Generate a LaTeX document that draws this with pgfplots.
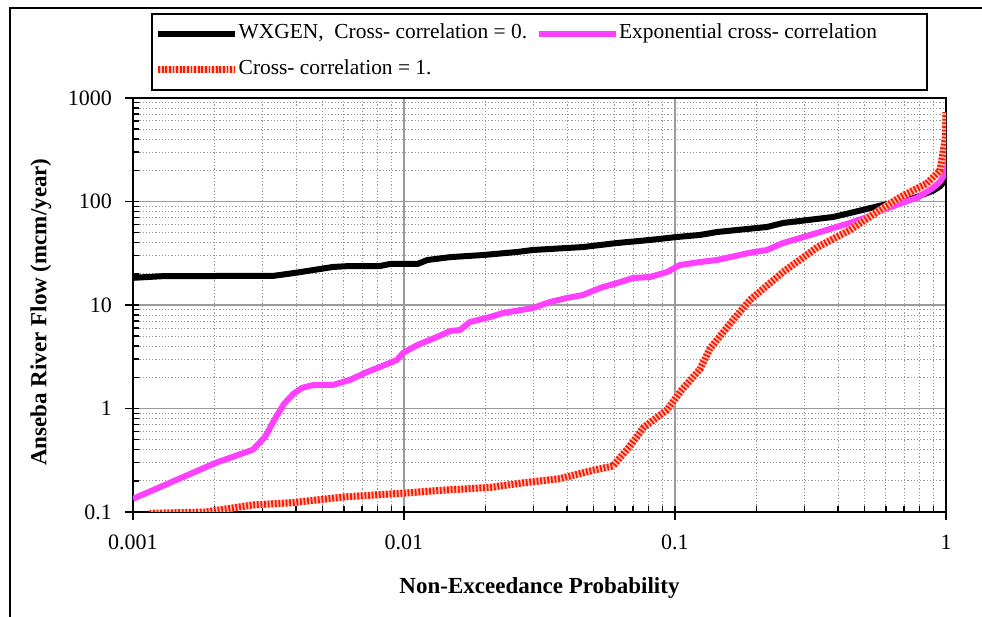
\documentclass[border=0pt]{standalone}
\usepackage{pgfplots}
\pgfplotsset{compat=1.18}
\usepackage{fontspec}
\setmainfont{Liberation Serif}
\definecolor{expmag}{RGB}{255,64,255}
\definecolor{ccred}{RGB}{255,25,0}
\definecolor{ccpink}{RGB}{255,190,180}
\definecolor{majgrid}{RGB}{155,155,155}
\definecolor{mingrid}{RGB}{150,150,150}
\pgfplotsset{legend image code/.code={\draw[#1] (0pt,0pt) -- (77pt,0pt);}}
\begin{document}
\begin{tikzpicture}[x=1pt,y=1pt]
\path[use as bounding box] (0,0) rectangle (982,617);
\draw[line width=2pt] (10,-5) -- (10,609) -- (990,609);
\draw[line width=1.8pt] (152,603) rectangle (927,527);
\begin{axis}[
  at={(133pt,105pt)}, anchor=south west,
  width=813pt, height=414pt, scale only axis,
  xmode=log, ymode=log,
  xmin=0.001, xmax=1, ymin=0.1, ymax=1000,
  xtick={0.001,0.01,0.1,1}, xticklabels={0.001,0.01,0.1,1},
  ytick={0.1,1,10,100,1000}, yticklabels={0.1,1,10,100,1000},
  xtick pos=left, ytick pos=left,
  tick align=inside, major tick length=5pt, minor tick length=6pt,
  tick style={black, line width=1.8pt},
  minor tick style={black, line width=1.4pt},
  extra x ticks={0.001,0.01,0.1,1}, extra x tick labels={},
  extra y ticks={0.1,1,10,100,1000}, extra y tick labels={},
  extra tick style={tick align=outside, major tick length=8pt, grid=none},
  grid=both,
  major grid style={majgrid, line width=1.5pt},
  minor grid style={mingrid, line width=0.9pt, dash pattern=on 1.2pt off 2pt},
  axis line style={black, line width=2pt},
  ticklabel style={font=\fontsize{22}{24}\selectfont},
  xticklabel style={anchor=north, inner sep=0pt, yshift=-23pt},
  yticklabel style={anchor=east, inner sep=0pt, xshift=-21pt},
  xlabel={Non-Exceedance Probability},
  ylabel={Anseba River Flow (mcm/year)},
  xlabel style={font=\bfseries\fontsize{23}{26}\selectfont, at={(axis description cs:0.5,-0.1836)}, anchor=center},
  ylabel style={font=\bfseries\fontsize{23}{26}\selectfont, at={(axis description cs:-0.1132,0.483)}, anchor=center},
  legend columns=2, legend cell align=left,
  legend style={draw=none, fill=none, at={(axis description cs:0.0265,1.185)}, anchor=north west,
    font=\fontsize{21.4}{24}\selectfont, inner sep=0pt,
    /tikz/every even column/.append style={column sep=9pt}, row sep=12pt,
    nodes={inner ysep=2pt, inner xsep=0pt, text height=15pt, text depth=5pt}},
]
\addplot[black, line width=6pt, line join=round] coordinates {
(0.001,18.3) (0.00129,19.0) (0.0027,19.1) (0.00329,19.1) (0.0040,20.5) (0.00547,23.3)
(0.00632,23.8) (0.00815,23.8) (0.00888,24.9) (0.0112,24.9) (0.0122,27.2) (0.0148,29.0)
(0.0196,30.4) (0.0261,32.5) (0.0299,34.0) (0.0458,36.3) (0.0611,39.7) (0.0809,42.5)
(0.1017,45.4) (0.1237,47.5) (0.1429,50.7) (0.2185,56.7) (0.2504,62) (0.3828,70.8)
(0.4424,77.4) (0.5855,92.5) (0.7181,103.4) (0.7816,110.5) (0.851,120.8) (0.8954,127)
(0.9504,140) (0.9748,152) (0.99,175) (1,210)
};
\addlegendentry{WXGEN,\ \ Cross- correlation = 0.}
\addplot[expmag, line width=6pt, line join=round] coordinates {
(0.001,0.134) (0.00201,0.297) (0.00277,0.40) (0.00307,0.53) (0.0033,0.75) (0.0036,1.1)
(0.0039,1.38) (0.0042,1.58) (0.0046,1.68) (0.00547,1.69) (0.00632,1.89)
(0.0073,2.25) (0.00815,2.52) (0.00942,2.94) (0.00992,3.44) (0.0112,4.1) (0.0132,4.9)
(0.0148,5.6) (0.0161,5.73) (0.0175,6.85) (0.0208,7.66) (0.0232,8.37) (0.0299,9.35)
(0.0346,10.7) (0.040,11.7) (0.0458,12.5) (0.0529,14.6) (0.0611,16.3) (0.070,18.2)
(0.0809,18.65) (0.0934,20.8) (0.1043,24.35) (0.1237,26.0) (0.1429,27.2) (0.1892,32)
(0.2185,34) (0.2504,39.7) (0.334,49.6) (0.383,55.5) (0.442,62) (0.511,70.8)
(0.5855,82.8) (0.737,103.4) (0.78,108) (0.895,135) (0.95,155) (0.975,172.5)
(0.995,220) (1,269)
};
\addlegendentry{Exponential cross- correlation}
\addplot[ccred, line width=7pt, dash pattern=on 1.8pt off 1.8pt,
  preaction={draw=ccpink, line width=7pt, solid}] coordinates {
(0.00115,0.097) (0.00185,0.1) (0.00277,0.117) (0.00386,0.123) (0.00606,0.14) (0.00992,0.152)
(0.0142,0.163) (0.0209,0.173) (0.027,0.19) (0.0376,0.21) (0.0502,0.254) (0.059,0.278)
(0.0677,0.424) (0.0768,0.66) (0.0934,0.97) (0.1061,1.52) (0.1237,2.4) (0.1347,3.8)
(0.1637,7.16) (0.1892,11.2) (0.2504,20.8) (0.334,36) (0.442,53) (0.571,82.8)
(0.677,110) (0.851,150) (0.95,200) (0.975,294) (0.995,420) (1,730)
};
\addlegendentry{Cross- correlation = 1.}
\end{axis}
\end{tikzpicture}
\end{document}
